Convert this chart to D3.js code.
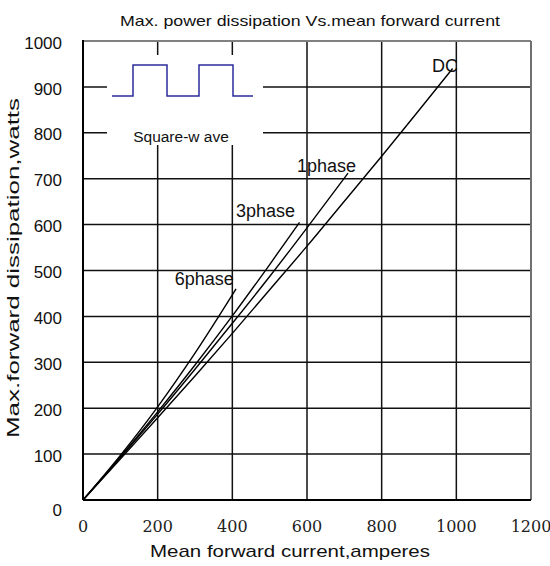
<!DOCTYPE html>
<html>
<head>
<meta charset="utf-8">
<script src="https://cdn.jsdelivr.net/npm/d3@7"></script>
<style>
  body { margin: 0; background: #fff; }
  svg { display: block; }
  .sans { font-family: "Liberation Sans", Arial, sans-serif; }
</style>
</head>
<body>
<svg id="chart" width="550" height="566"></svg>
<script>
// values
const xTicks = [0, 200, 400, 600, 800, 1000, 1200];
const yTicks = [0, 100, 200, 300, 400, 500, 600, 700, 800, 900, 1000];

const dcCurrent = [0, 100, 200, 300, 400, 500, 600, 700, 800, 900, 990];
const dcPower = [0, 89, 179, 270, 363, 458, 553, 651, 749, 849, 940];
const ph1Current = [0, 100, 200, 300, 400, 500, 600, 710];
const ph1Power = [0, 92, 187, 285, 385, 487, 593, 712];
const ph3Current = [0, 100, 200, 300, 400, 500, 580];
const ph3Power = [0, 94, 192, 294, 401, 513, 605];
const ph6Current = [0, 100, 200, 300, 410];
const ph6Power = [0, 97, 203, 320, 460];

const seriesNames = ["DC", "1phase", "3phase", "6phase"];
// label anchor (current, power) for each series name
const labelCurrent = [935, 573, 410, 246];
const labelPower = [932, 715, 617, 468];

const svg = d3.select("#chart");
const margin = {top: 41, right: 19, bottom: 66, left: 83};
const width = 550 - margin.left - margin.right;
const height = 566 - margin.top - margin.bottom;

const x = d3.scaleLinear().domain([0, 1200]).range([0, width]);
const y = d3.scaleLinear().domain([0, 1000]).range([height, 0]);

const g = svg.append("g")
    .attr("transform", `translate(${margin.left},${margin.top})`);

// grid
g.selectAll(".vgrid")
    .data(xTicks.slice(1, -1))
    .enter().append("line")
    .attr("x1", d => x(d)).attr("x2", d => x(d))
    .attr("y1", 0).attr("y2", height)
    .attr("stroke", "#111").attr("stroke-width", 1.5);

g.selectAll(".hgrid")
    .data(yTicks.slice(1, -1))
    .enter().append("line")
    .attr("x1", 0).attr("x2", width)
    .attr("y1", d => y(d)).attr("y2", d => y(d))
    .attr("stroke", "#111").attr("stroke-width", 1.5);

// frame: top / right grey, left / bottom black
g.append("line").attr("x1", 0).attr("x2", width).attr("y1", 0).attr("y2", 0)
    .attr("stroke", "#808080").attr("stroke-width", 2);
g.append("line").attr("x1", width).attr("x2", width).attr("y1", 0).attr("y2", height)
    .attr("stroke", "#707070").attr("stroke-width", 2);
g.append("line").attr("x1", 0).attr("x2", 0).attr("y1", -1).attr("y2", height)
    .attr("stroke", "#000").attr("stroke-width", 2);
g.append("line").attr("x1", 0).attr("x2", width).attr("y1", height).attr("y2", height)
    .attr("stroke", "#000").attr("stroke-width", 2);

// legend box (square wave)
const legend = g.append("g").attr("transform", "translate(24,14)");
legend.append("rect")
    .attr("x", 0).attr("y", 0).attr("width", 156).attr("height", 79)
    .attr("fill", "#fff");
legend.append("rect")
    .attr("x", 20).attr("y", 73).attr("width", 108).attr("height", 17)
    .attr("fill", "#fff");
const wave = [[5, 41], [26, 41], [26, 10], [60, 10], [60, 41], [92, 41],
              [92, 10], [126, 10], [126, 41], [146, 41]];
legend.append("path")
    .attr("d", d3.line()(wave))
    .attr("fill", "none")
    .attr("stroke", "#2b2b9a")
    .attr("stroke-width", 1.5);
legend.append("text")
    .attr("class", "sans")
    .attr("x", 74).attr("y", 87)
    .attr("text-anchor", "middle")
    .attr("font-size", 15.5)
    .attr("fill", "#111")
    .text("Square-w ave");

// curves
const series = [
    {cur: dcCurrent, pow: dcPower},
    {cur: ph1Current, pow: ph1Power},
    {cur: ph3Current, pow: ph3Power},
    {cur: ph6Current, pow: ph6Power}
];
const line = d3.line()
    .x(d => x(d[0]))
    .y(d => y(d[1]))
    .curve(d3.curveMonotoneX);

g.selectAll(".curve")
    .data(series)
    .enter().append("path")
    .attr("d", s => line(s.cur.map((c, i) => [c, s.pow[i]])))
    .attr("fill", "none")
    .attr("stroke", "#000")
    .attr("stroke-width", 1.4);

g.selectAll(".slabel")
    .data(seriesNames)
    .enter().append("text")
    .attr("class", "sans")
    .attr("x", (d, i) => x(labelCurrent[i]))
    .attr("y", (d, i) => y(labelPower[i]))
    .attr("font-size", 18)
    .attr("fill", "#111")
    .text(d => d);

// tick labels
g.selectAll(".ylab")
    .data(yTicks)
    .enter().append("text")
    .attr("class", "sans")
    .attr("x", -21)
    .attr("y", d => y(d))
    .attr("dy", d => d === 0 ? "0.95em" : "0.45em")
    .attr("text-anchor", "end")
    .attr("font-size", 17)
    .attr("fill", "#111")
    .text(d => d);

g.selectAll(".xlab")
    .data(xTicks)
    .enter().append("text")
    .attr("style", "font-family: 'DejaVu Serif', 'Liberation Serif', serif")
    .attr("x", d => x(d))
    .attr("y", height + 32)
    .attr("text-anchor", "middle")
    .attr("font-size", 16)
    .attr("fill", "#222")
    .text(d => d);

// titles
svg.append("text")
    .attr("class", "sans")
    .attr("x", 310).attr("y", 26)
    .attr("text-anchor", "middle")
    .attr("font-size", 15)
    .attr("fill", "#111")
    .attr("textLength", 380)
    .attr("lengthAdjust", "spacingAndGlyphs")
    .text("Max. power dissipation  Vs.mean  forward  current");

svg.append("text")
    .attr("class", "sans")
    .attr("x", 290).attr("y", 557)
    .attr("text-anchor", "middle")
    .attr("font-size", 17)
    .attr("fill", "#111")
    .attr("textLength", 280)
    .attr("lengthAdjust", "spacingAndGlyphs")
    .text("Mean forward  current,amperes");

svg.append("text")
    .attr("class", "sans")
    .attr("transform", "translate(19,268) rotate(-90)")
    .attr("text-anchor", "middle")
    .attr("font-size", 16)
    .attr("fill", "#111")
    .attr("textLength", 340)
    .attr("lengthAdjust", "spacingAndGlyphs")
    .text("Max.forward dissipation,watts");
</script>
</body>
</html>
